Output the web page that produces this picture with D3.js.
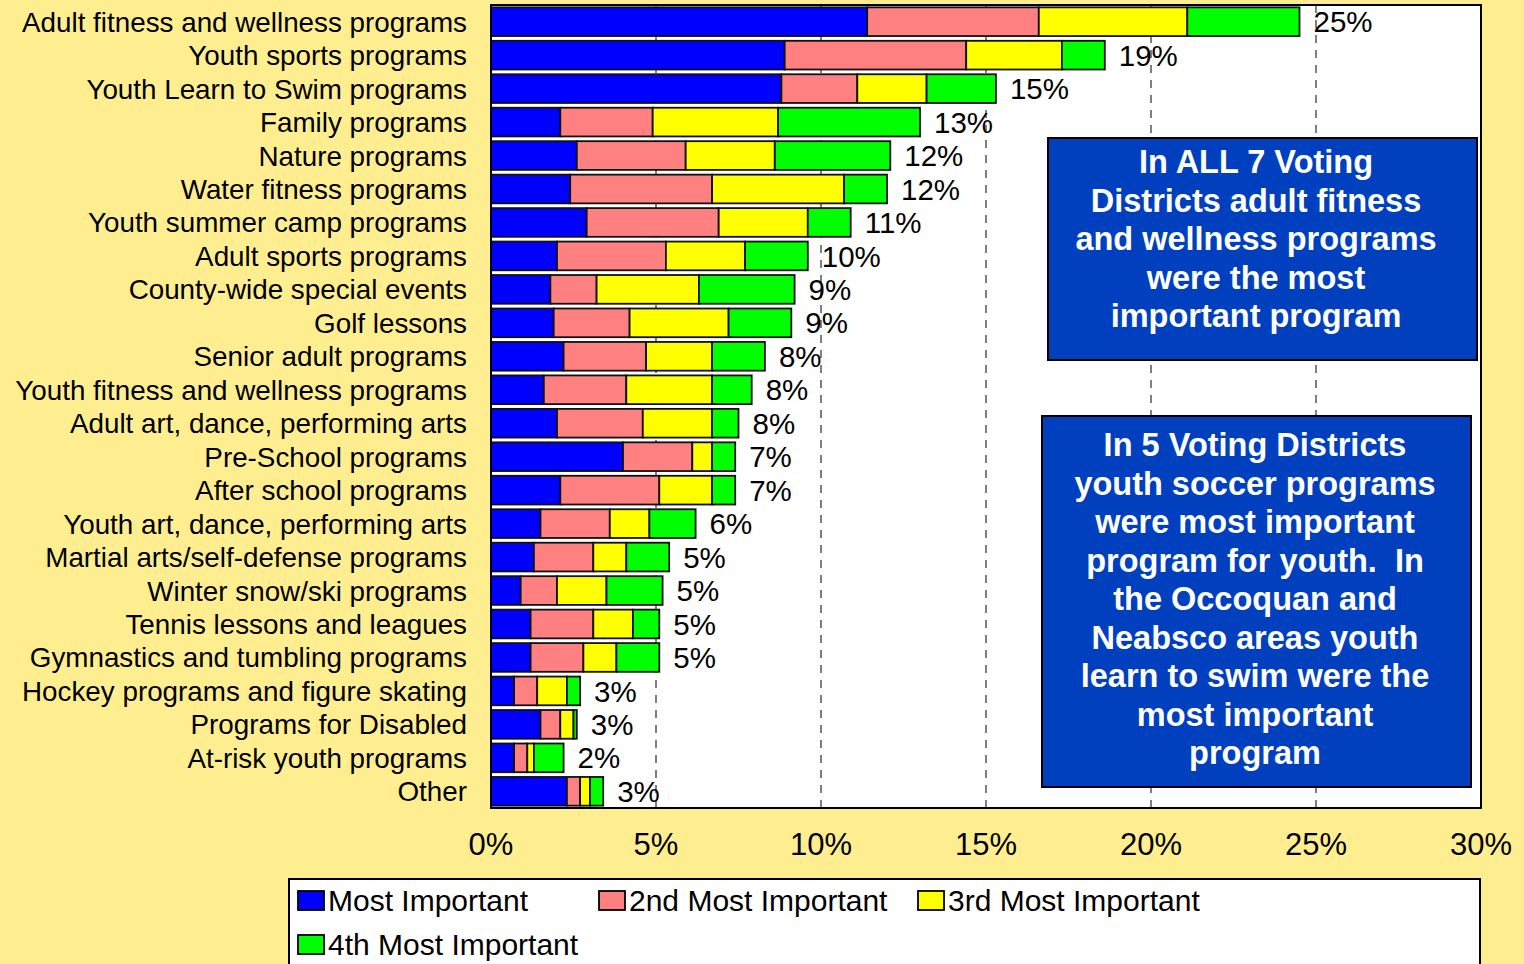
<!DOCTYPE html>
<html>
<head>
<meta charset="utf-8">
<script src="https://cdn.jsdelivr.net/npm/d3@7"></script>
<style>
  body { margin: 0; background: #ffee90; }
  svg { display: block; font-family: "Liberation Sans", Arial, sans-serif; }
  .note { white-space: pre; }
</style>
</head>
<body>
<div id="chart"></div>
<script>
// program names, top to bottom
let categories = [
    "Adult fitness and wellness programs",
    "Youth sports programs",
    "Youth Learn to Swim programs",
    "Family programs",
    "Nature programs",
    "Water fitness programs",
    "Youth summer camp programs",
    "Adult sports programs",
    "County-wide special events",
    "Golf lessons",
    "Senior adult programs",
    "Youth fitness and wellness programs",
    "Adult art, dance, performing arts",
    "Pre-School programs",
    "After school programs",
    "Youth art, dance, performing arts",
    "Martial arts/self-defense programs",
    "Winter snow/ski programs",
    "Tennis lessons and leagues",
    "Gymnastics and tumbling programs",
    "Hockey programs and figure skating",
    "Programs for Disabled",
    "At-risk youth programs",
    "Other"
];

// percent of respondents
let mostImportant = [11.4, 8.9, 8.8, 2.1, 2.6, 2.4, 2.9, 2.0, 1.8, 1.9, 2.2, 1.6, 2.0, 4.0, 2.1, 1.5, 1.3, 0.9, 1.2, 1.2, 0.7, 1.5, 0.7, 2.3];
let secondImportant = [5.2, 5.5, 2.3, 2.8, 3.3, 4.3, 4.0, 3.3, 1.4, 2.3, 2.5, 2.5, 2.6, 2.1, 3.0, 2.1, 1.8, 1.1, 1.9, 1.6, 0.7, 0.6, 0.4, 0.4];
let thirdImportant = [4.5, 2.9, 2.1, 3.8, 2.7, 4.0, 2.7, 2.4, 3.1, 3.0, 2.0, 2.6, 2.1, 0.6, 1.6, 1.2, 1.0, 1.5, 1.2, 1.0, 0.9, 0.4, 0.2, 0.3];
let fourthImportant = [3.4, 1.3, 2.1, 4.3, 3.5, 1.3, 1.3, 1.9, 2.9, 1.9, 1.6, 1.2, 0.8, 0.7, 0.7, 1.4, 1.3, 1.7, 0.8, 1.3, 0.4, 0.1, 0.9, 0.4];

let totalLabels = ["25%", "19%", "15%", "13%", "12%", "12%", "11%", "10%", "9%", "9%", "8%", "8%", "8%", "7%", "7%", "6%", "5%", "5%", "5%", "5%", "3%", "3%", "2%", "3%"];

let seriesNames = ["Most Important", "2nd Most Important", "3rd Most Important", "4th Most Important"];
let xTicks = [0, 5, 10, 15, 20, 25, 30];

let note1 = ["In ALL 7 Voting", "Districts adult fitness", "and wellness programs", "were the most", "important program"];
let note2 = ["In 5 Voting Districts", "youth soccer programs", "were most important", "program for youth.  In", "the Occoquan and", "Neabsco areas youth", "learn to swim were the", "most important", "program"];

let W = 1524, H = 964;
let plot = {left: 491, right: 1481, top: 5, bottom: 808};
let colors = ["#0000ff", "#ff8080", "#ffff00", "#00ff00"];

let svg = d3.select("#chart")
    .append("svg")
    .attr("width", W)
    .attr("height", H);

svg.append("rect")
    .attr("width", W)
    .attr("height", H)
    .attr("fill", "#ffee90");

let x = d3.scaleLinear()
    .domain([0, 30])
    .range([plot.left, plot.right]);

let y = d3.scaleBand()
    .domain(categories)
    .range([plot.top, plot.bottom])
    .paddingInner(0.142)
    .paddingOuter(0.07);

// plot background
svg.append("rect")
    .attr("x", plot.left)
    .attr("y", plot.top)
    .attr("width", plot.right - plot.left)
    .attr("height", plot.bottom - plot.top)
    .attr("fill", "white");

// dashed gridlines
svg.append("g")
    .selectAll("line")
    .data(xTicks.slice(1, -1))
    .enter()
    .append("line")
    .attr("x1", (d) => x(d))
    .attr("x2", (d) => x(d))
    .attr("y1", plot.top)
    .attr("y2", plot.bottom)
    .attr("stroke", "#555")
    .attr("stroke-width", 1.5)
    .attr("stroke-dasharray", "8,7");

let rows = categories.map((c, i) => {
    return {
        name: c,
        s0: mostImportant[i],
        s1: secondImportant[i],
        s2: thirdImportant[i],
        s3: fourthImportant[i]
    };
});

let stack = d3.stack().keys(["s0", "s1", "s2", "s3"]);
let series = stack(rows);

svg.append("g")
    .selectAll("g")
    .data(series)
    .enter()
    .append("g")
    .attr("fill", (d, i) => colors[i])
    .selectAll("rect")
    .data((d) => d)
    .enter()
    .append("rect")
    .attr("x", (d) => x(d[0]))
    .attr("y", (d) => y(d.data.name))
    .attr("width", (d) => x(d[1]) - x(d[0]))
    .attr("height", y.bandwidth())
    .attr("stroke", "#111")
    .attr("stroke-width", 1.8);

// total labels
svg.append("g")
    .selectAll("text")
    .data(rows)
    .enter()
    .append("text")
    .attr("x", (d) => x(d.s0 + d.s1 + d.s2 + d.s3) + 14)
    .attr("y", (d) => y(d.name) + y.bandwidth() / 2)
    .attr("dy", "0.36em")
    .attr("font-size", 29.5)
    .attr("fill", "#000")
    .text((d, i) => totalLabels[i]);

// category labels
svg.append("g")
    .selectAll("text")
    .data(categories)
    .enter()
    .append("text")
    .attr("x", 467)
    .attr("y", (d) => y(d) + y.bandwidth() / 2)
    .attr("dy", "0.36em")
    .attr("text-anchor", "end")
    .attr("font-size", 27.8)
    .attr("fill", "#000")
    .text((d) => d);

// plot frame
svg.append("rect")
    .attr("x", plot.left)
    .attr("y", plot.top)
    .attr("width", plot.right - plot.left)
    .attr("height", plot.bottom - plot.top)
    .attr("fill", "none")
    .attr("stroke", "#000")
    .attr("stroke-width", 2);

// x tick labels
svg.append("g")
    .selectAll("text")
    .data(xTicks)
    .enter()
    .append("text")
    .attr("x", (d) => x(d))
    .attr("y", 855)
    .attr("text-anchor", "middle")
    .attr("font-size", 31)
    .attr("fill", "#000")
    .text((d) => d + "%");

// note boxes
function noteBox(x0, y0, w, h, lines, cx, firstBaseline) {
    let g = svg.append("g");
    g.append("rect")
        .attr("x", x0)
        .attr("y", y0)
        .attr("width", w)
        .attr("height", h)
        .attr("fill", "#0040bf")
        .attr("stroke", "#000")
        .attr("stroke-width", 2);
    g.selectAll("text")
        .data(lines)
        .enter()
        .append("text")
        .attr("class", "note")
        .attr("x", cx)
        .attr("y", (d, i) => firstBaseline + i * 38.5)
        .attr("text-anchor", "middle")
        .attr("font-size", 32.5)
        .attr("font-weight", "bold")
        .attr("fill", "white")
        .text((d) => d);
}

noteBox(1048, 138, 429, 222, note1, 1256, 173);
noteBox(1042, 416, 429, 371, note2, 1255, 456);

// legend
let legend = svg.append("g");
legend.append("rect")
    .attr("x", 289)
    .attr("y", 879)
    .attr("width", 1191)
    .attr("height", 120)
    .attr("fill", "white")
    .attr("stroke", "#000")
    .attr("stroke-width", 2);

let legendPos = [[298, 911], [599, 911], [918, 911], [298, 955]];

let items = legend.selectAll("g.item")
    .data(seriesNames)
    .enter()
    .append("g")
    .attr("class", "item")
    .attr("transform", (d, i) => "translate(" + legendPos[i][0] + "," + legendPos[i][1] + ")");

items.append("rect")
    .attr("x", 0)
    .attr("y", -20)
    .attr("width", 26)
    .attr("height", 19)
    .attr("fill", (d, i) => colors[i])
    .attr("stroke", "#000")
    .attr("stroke-width", 1.8);

items.append("text")
    .attr("x", 30)
    .attr("y", 0)
    .attr("font-size", 30)
    .attr("fill", "#000")
    .text((d) => d);
</script>
</body>
</html>
